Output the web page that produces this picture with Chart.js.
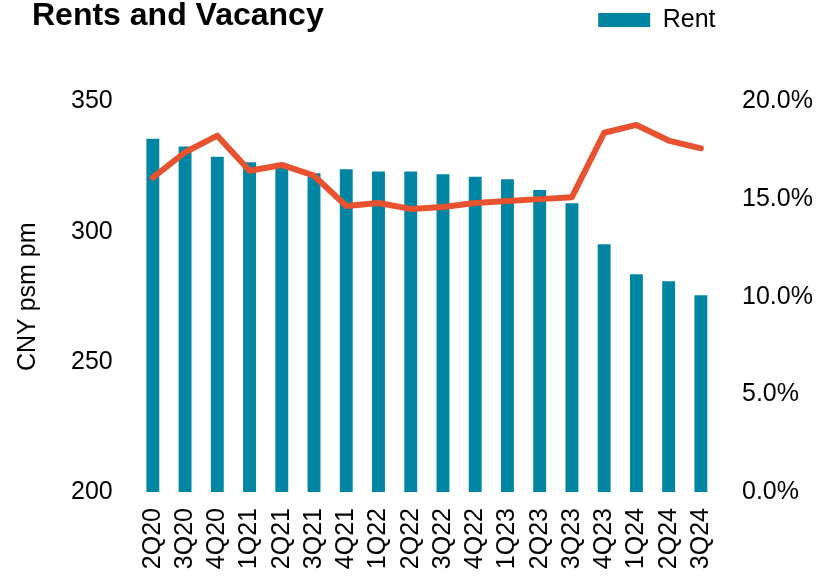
<!DOCTYPE html>
<html>
  <head>
    <title>Rents and Vacancy</title>
    <script src="https://cdn.jsdelivr.net/npm/chart.js"></script>
    <style>
      body { margin: 0; font-family: "Liberation Sans", Arial, sans-serif; background: #fff; }
      .wrap { position: relative; width: 820px; height: 577px; }
      .title { position: absolute; left: 32px; top: -2px; font-size: 32px; line-height: 1; font-weight: bold; color: #000; }
    </style>
  </head>
  <body>
    <div class="wrap">
      <div class="title">Rents and Vacancy</div>
      <canvas id="rentChart" width="820" height="577"></canvas>
    </div>
    <script>
      const quarters = ['2Q20', '3Q20', '4Q20', '1Q21', '2Q21', '3Q21', '4Q21', '1Q22', '2Q22',
                        '3Q22', '4Q22', '1Q23', '2Q23', '3Q23', '4Q23', '1Q24', '2Q24', '3Q24'];
      const rent = [335.7, 332.7, 328.8, 326.7, 325.1, 322.4, 324.0, 323.1, 323.1,
                    322.1, 321.1, 320.1, 316.0, 310.9, 295.2, 283.6, 281.0, 275.6];
      const vacancy = [16.1, 17.4, 18.25, 16.45, 16.75, 16.2, 14.65, 14.8, 14.5,
                       14.6, 14.8, 14.9, 15.0, 15.1, 18.4, 18.8, 18.0, 17.6];

      const teal = '#0086A3';
      const orange = '#E8522F';
      const font = { family: '"Liberation Sans", Arial, sans-serif', size: 25 };

      // leave room between the legend row and the top of the plot
      const legendGap = {
        id: 'legendGap',
        beforeInit(chart) {
          const fit = chart.legend.fit;
          chart.legend.fit = function () {
            fit.bind(chart.legend)();
            this.height += 59;
          };
        }
      };

      new Chart(document.getElementById('rentChart'), {
        data: {
          labels: quarters,
          datasets: [
            {
              type: 'line',
              label: 'Vacancy',
              data: vacancy,
              yAxisID: 'y1',
              borderColor: orange,
              backgroundColor: orange,
              borderWidth: 6,
              pointRadius: 0,
              tension: 0,
              borderJoinStyle: 'round',
              borderCapStyle: 'round',
              order: 0
            },
            {
              type: 'bar',
              label: 'Rent',
              data: rent,
              yAxisID: 'y',
              backgroundColor: teal,
              barPercentage: 0.4,
              categoryPercentage: 1,
              order: 1
            }
          ]
        },
        options: {
          responsive: false,
          animation: false,
          layout: { padding: { left: 0, right: 7, top: 6, bottom: 0 } },
          plugins: {
            legend: {
              position: 'top',
              align: 'end',
              fullSize: false,
              labels: {
                filter: item => item.text === 'Rent',
                boxWidth: 52,
                boxHeight: 14,
                color: '#000',
                font: font,
                padding: 1.5
              }
            },
            tooltip: { enabled: false }
          },
          scales: {
            x: {
              grid: { display: false, drawTicks: false },
              border: { display: false },
              ticks: { color: '#000', font: font, minRotation: 90, maxRotation: 90, autoSkip: false, padding: 16 },
              afterFit: s => { s.height = 85; }
            },
            y: {
              position: 'left',
              min: 200,
              max: 350,
              grid: { display: false, drawTicks: false },
              border: { display: false },
              title: { display: true, text: 'CNY psm pm', color: '#000', font: font, padding: { top: 13, bottom: 4 } },
              ticks: { stepSize: 50, color: '#000', font: font, padding: 24 }
            },
            y1: {
              position: 'right',
              min: 0,
              max: 20,
              grid: { display: false, drawTicks: false },
              border: { display: false },
              ticks: {
                stepSize: 5,
                color: '#000',
                font: font,
                padding: 25,
                callback: v => v.toFixed(1) + '%'
              },
              afterFit: s => { s.width = 96; }
            }
          }
        },
        plugins: [legendGap]
      });
    </script>
  </body>
</html>
